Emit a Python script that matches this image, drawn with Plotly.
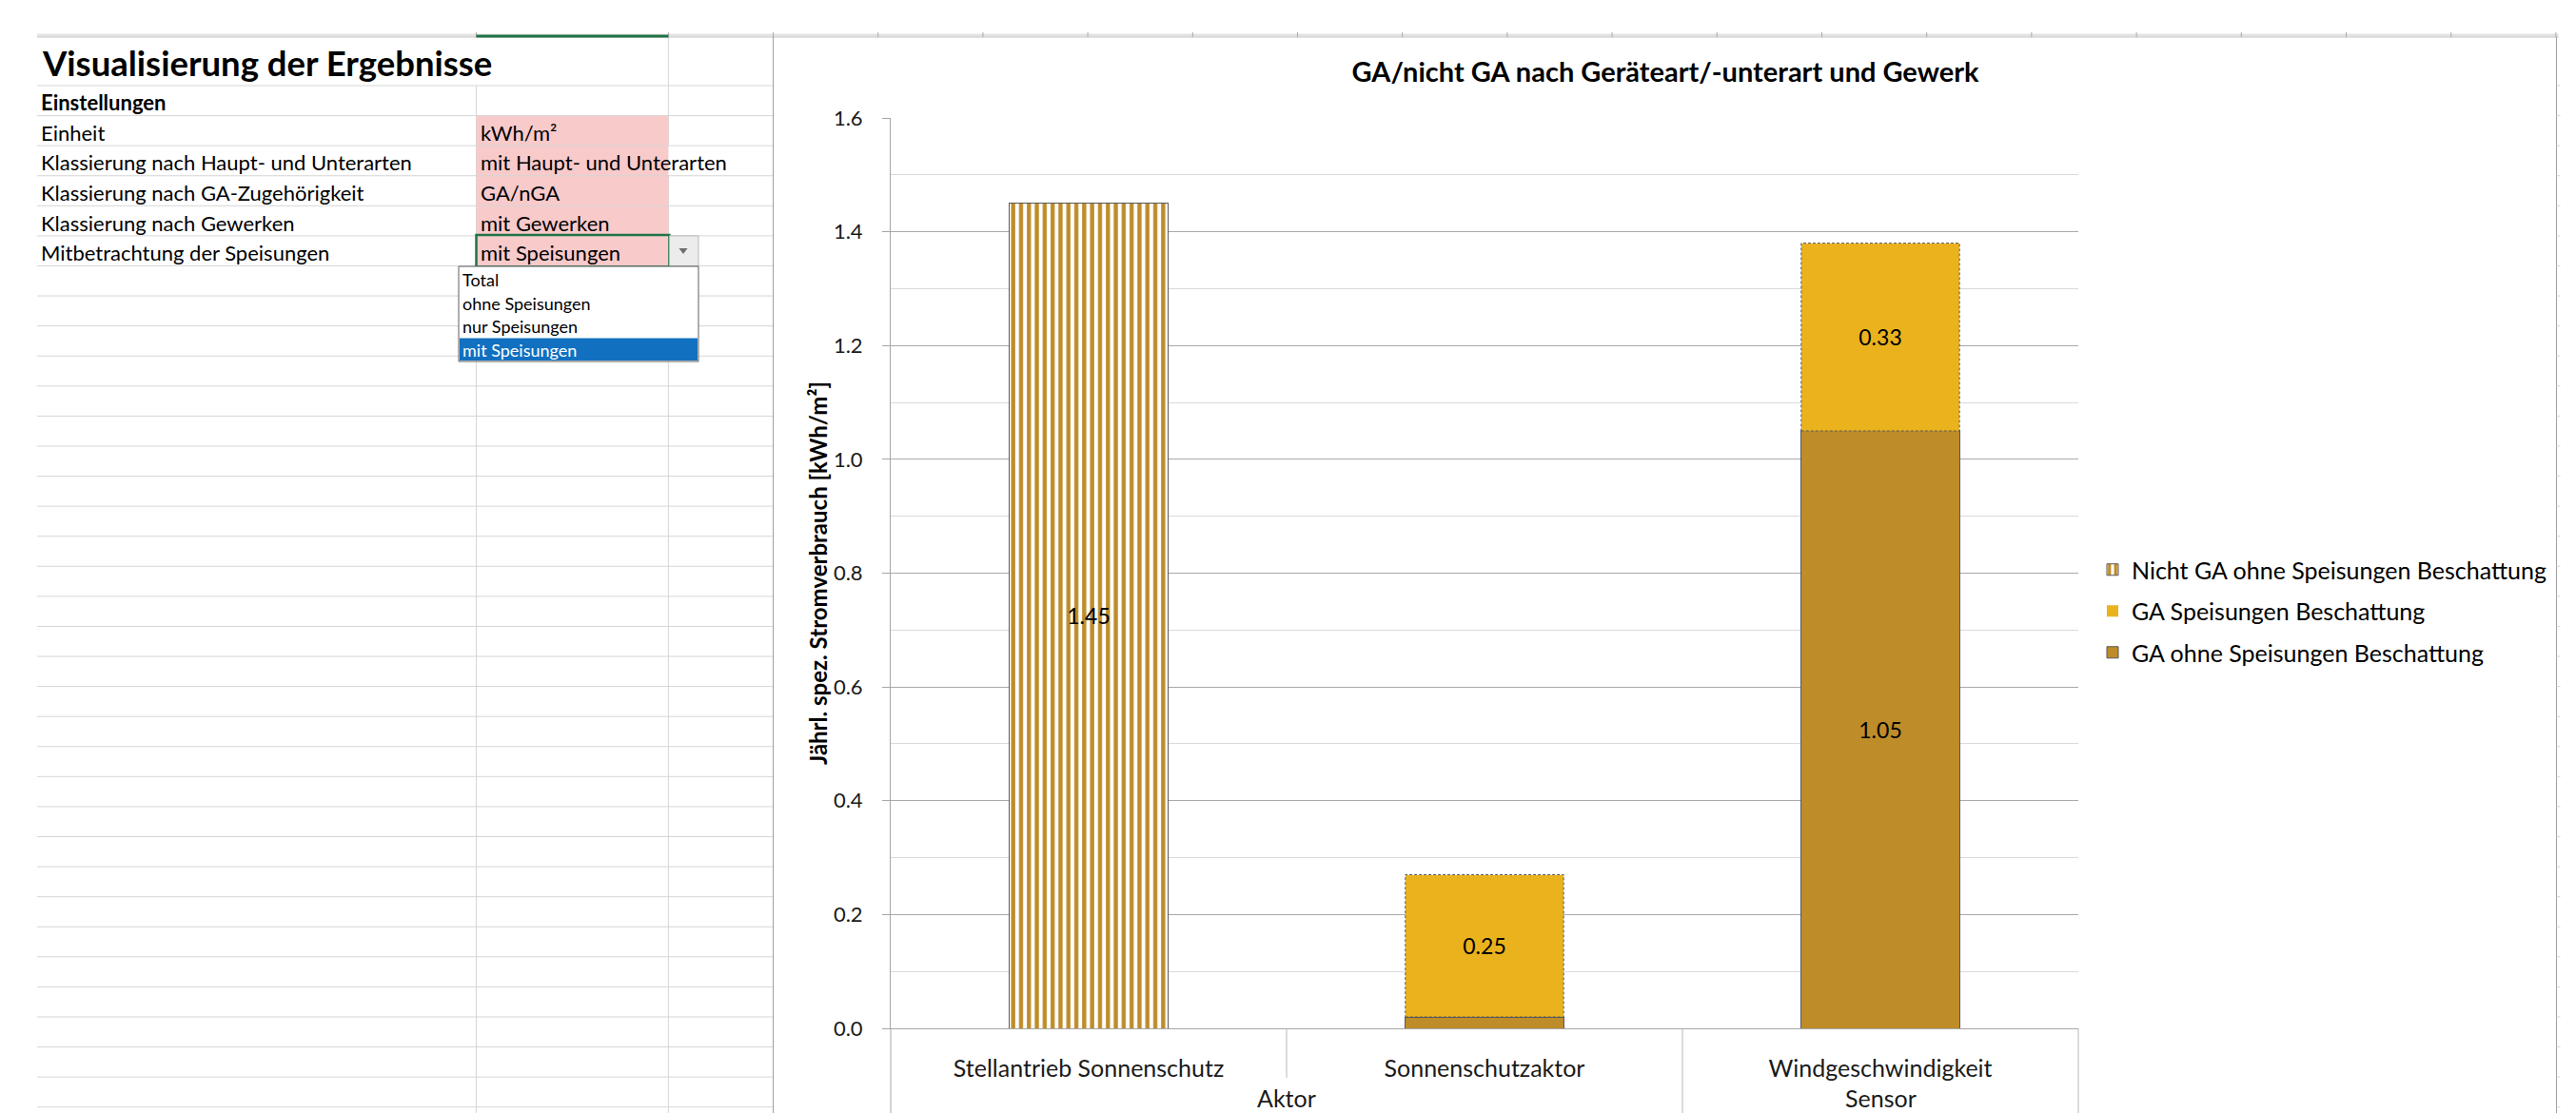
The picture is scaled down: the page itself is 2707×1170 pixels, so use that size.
import plotly.graph_objects as go

# ---------------- chart data ----------------
groups = ["Aktor", "Aktor", "Sensor"]
categories = ["Stellantrieb Sonnenschutz", "Sonnenschutzaktor", "Windgeschwindigkeit"]
ga_ohne_speisungen = [None, 0.02, 1.05]
ga_speisungen = [None, 0.25, 0.33]
nicht_ga_ohne_speisungen = [1.45, None, None]
series_names = [
    "GA ohne Speisungen Beschattung",
    "GA Speisungen Beschattung",
    "Nicht GA ohne Speisungen Beschattung",
]
y_tick_values = [0.0, 0.2, 0.4, 0.6, 0.8, 1.0, 1.2, 1.4, 1.6]

chart_title = "GA/nicht GA nach Geräteart/-unterart und Gewerk"
y_title = "Jährl. spez. Stromverbrauch [kWh/m²]"

# ---------------- worksheet content beside the chart ----------------
sheet_title = "Visualisierung der Ergebnisse"
settings_header = "Einstellungen"
setting_labels = [
    "Einheit",
    "Klassierung nach Haupt- und Unterarten",
    "Klassierung nach GA-Zugehörigkeit",
    "Klassierung nach Gewerken",
    "Mitbetrachtung der Speisungen",
]
setting_values = ["kWh/m²", "mit Haupt- und Unterarten", "GA/nGA", "mit Gewerken", "mit Speisungen"]
dropdown_options = ["Total", "ohne Speisungen", "nur Speisungen", "mit Speisungen"]
selected_option = "mit Speisungen"

# ---------------- styling ----------------
FONT = "Lato, Carlito, Calibri, sans-serif"
GOLD = "#BE8C28"
YELLOW = "#EAB31E"
EDGE = "#595959"
TEXT = "#1a1a1a"
BAR_W = 0.4

W, H = 2707, 1170
PLOT_L, PLOT_R, PLOT_T, PLOT_B = 936, 2184, 124, 1081


def fx(px):
    return (px - PLOT_L) / (PLOT_R - PLOT_L)


def fy(py):
    return (PLOT_B - py) / (PLOT_B - PLOT_T)


shapes = []
annotations = []


def hline(x0, x1, y, color, width=1):
    shapes.append(dict(type="line", xref="paper", yref="paper", x0=fx(x0), x1=fx(x1),
                       y0=fy(y), y1=fy(y), line=dict(color=color, width=width), layer="above"))


def vline(x, y0, y1, color, width=1):
    shapes.append(dict(type="line", xref="paper", yref="paper", x0=fx(x), x1=fx(x),
                       y0=fy(y0), y1=fy(y1), line=dict(color=color, width=width), layer="above"))


def box(x0, y0, x1, y1, fill, color=None, width=0):
    shapes.append(dict(type="rect", xref="paper", yref="paper", x0=fx(x0), x1=fx(x1),
                       y0=fy(y1), y1=fy(y0), fillcolor=fill,
                       line=dict(color=color or fill, width=width), layer="above"))


def label(x, y, s, size, color="#000000", bold=False, anchor="left"):
    annotations.append(dict(x=fx(x), y=fy(y), xref="paper", yref="paper", text=s,
                            showarrow=False, xanchor=anchor, yanchor="middle",
                            font=dict(family=FONT, size=size, color=color,
                                      weight=700 if bold else 400)))


def value_labels(values):
    return [f"{v:.2f}" if v is not None and v >= 0.1 else "" for v in values]


# ---------------- bars ----------------
fig = go.Figure()
text_font = dict(family=FONT, size=23, color="#000000")

fig.add_trace(go.Bar(
    name=series_names[0], x=categories, y=ga_ohne_speisungen, width=BAR_W,
    marker=dict(color=GOLD, line=dict(color=EDGE, width=1)),
    text=value_labels(ga_ohne_speisungen), textposition="inside",
    insidetextanchor="middle", textangle=0, textfont=text_font,
    legendgroup="g1", legendrank=3,
))
fig.add_trace(go.Bar(
    name=series_names[1], x=categories, y=ga_speisungen, width=BAR_W,
    marker=dict(color=YELLOW, line=dict(color=YELLOW, width=0)),
    text=value_labels(ga_speisungen), textposition="inside",
    insidetextanchor="middle", textangle=0, textfont=text_font,
    legendgroup="g2", legendrank=2,
))
fig.add_trace(go.Bar(
    name=series_names[2], x=categories, y=nicht_ga_ohne_speisungen, width=BAR_W,
    marker=dict(color="white", line=dict(color=EDGE, width=1),
                pattern=dict(shape="|", fgcolor=GOLD, bgcolor="white",
                             size=8.3, solidity=0.52)),
    text=value_labels(nicht_ga_ohne_speisungen), textposition="inside",
    insidetextanchor="middle", textangle=0, textfont=text_font,
    legendgroup="g3", legendrank=1,
))

# dashed outline of the "GA Speisungen" segments
for i, (base, val) in enumerate(zip(ga_ohne_speisungen, ga_speisungen)):
    if val:
        b = base or 0.0
        shapes.append(dict(type="rect", xref="x", yref="y",
                           x0=i - BAR_W / 2, x1=i + BAR_W / 2, y0=b, y1=b + val,
                           line=dict(color=EDGE, width=1, dash="3px,2px"),
                           fillcolor="rgba(0,0,0,0)", layer="above"))

# ---------------- category axis dividers and group labels ----------------
AXIS_GRAY = "#a6a6a6"
n = len(categories)
for k in range(n + 1):
    is_group_edge = k == 0 or k == n or groups[k - 1] != groups[k]
    shapes.append(dict(type="line", xref="paper", yref="paper", x0=k / n, x1=k / n,
                       y0=0, y1=fy(1172 if is_group_edge else 1133),
                       line=dict(color=AXIS_GRAY if k == 0 else "#b8b8b8", width=1),
                       layer="above"))

seen = []
for g in groups:
    if g not in seen:
        seen.append(g)
for g in seen:
    idx = [i for i, gg in enumerate(groups) if gg == g]
    annotations.append(dict(x=sum(idx) / len(idx), xref="x", y=fy(1170), yref="paper",
                            text=g, showarrow=False, xanchor="center", yanchor="bottom",
                            borderpad=0,
                            font=dict(family=FONT, size=25, color=TEXT)))

# y axis title
annotations.append(dict(x=fx(859), y=fy(603), xref="paper", yref="paper", text=y_title,
                        textangle=-90, showarrow=False, xanchor="center", yanchor="middle",
                        font=dict(family=FONT, size=24, color="#000000", weight=700)))

# ---------------- worksheet backdrop ----------------
GRID = "#d6d6d6"
ROW_H = 31.58
TITLE_ROW_BOTTOM = 90
row_edges = [TITLE_ROW_BOTTOM + ROW_H * k for k in range(0, 36) if TITLE_ROW_BOTTOM + ROW_H * k < H]
COL_A, COL_B, COL_C, CHART_X0, CHART_X1 = 39, 500.5, 702.4, 812.5, 2686.5

# column lines (hidden where text overflows)
vline(COL_B, TITLE_ROW_BOTTOM, H, GRID)
vline(COL_C, 39, row_edges[2], GRID)
vline(COL_C, row_edges[3], H, GRID)

# highlighted input cells
box(COL_B, row_edges[1], COL_C, row_edges[6], "#f8caca")

for y in row_edges:
    hline(COL_A, CHART_X0, y, GRID)

# column header strip
box(COL_A, 35.5, CHART_X1 + 2, 38.5, "#e3e3e3")
hline(COL_A, CHART_X1 + 2, 39, "#c4c4c4")
col_marks = [COL_B, COL_C] + [CHART_X0 + 110.2 * k for k in range(0, 18)]
for x in col_marks:
    vline(x, 34, 39, "#a8a8a8")
box(COL_B, 36.5, COL_C, 39.5, "#217346")

# chart object border
vline(CHART_X0, 39, H, "#a0a0a0")
vline(CHART_X1, 39, H, "#a0a0a0")
for y in row_edges:
    hline(CHART_X1, CHART_X1 + 4, y, GRID)

# sheet texts
label(42, 66, sheet_title, 36.5, bold=True)
label(41, row_edges[0] + ROW_H / 2 + 2, settings_header, 22, bold=True)
for k, (name, val) in enumerate(zip(setting_labels, setting_values)):
    yc = row_edges[k + 1] + ROW_H / 2 + 2
    label(41, yc, name, 22)
    label(503, yc, val, 22)

# active cell with validation drop-down
sel_top, sel_bot = row_edges[5], row_edges[6]
shapes.append(dict(type="rect", xref="paper", yref="paper", x0=fx(COL_B), x1=fx(COL_C + 1),
                   y0=fy(sel_bot + 1), y1=fy(sel_top - 1), fillcolor="rgba(0,0,0,0)",
                   line=dict(color="#217346", width=2.5), layer="above"))
box(COL_C + 1, sel_top, 734, sel_bot, "#ececec", "#b8b8b8", 1)
tri = (f"M {fx(713.5)} {fy(261)} L {fx(722.5)} {fy(261)} L {fx(718)} {fy(267)} Z")
shapes.append(dict(type="path", xref="paper", yref="paper", path=tri,
                   fillcolor="#6e6e6e", line=dict(color="#6e6e6e", width=0), layer="above"))

LIST_X0, LIST_X1, LIST_Y0, LIST_Y1 = 482, 734, 280, 380
box(LIST_X0, LIST_Y0, LIST_X1, LIST_Y1, "white", "#5f5f5f", 1)
item_h = (LIST_Y1 - LIST_Y0 - 2) / len(dropdown_options)
for k, opt in enumerate(dropdown_options):
    y0 = LIST_Y0 + 1 + item_h * k
    chosen = opt == selected_option
    if chosen:
        box(LIST_X0 + 1, y0 + 1, LIST_X1 - 1, y0 + item_h, "#1170c0")
    label(484, y0 + item_h / 2 + 1, opt, 18, color="white" if chosen else "#000000")

# ---------------- layout ----------------
fig.update_layout(
    width=W, height=H, autosize=False,
    template="none",
    paper_bgcolor="white", plot_bgcolor="white",
    margin=dict(l=PLOT_L, r=W - PLOT_R, t=PLOT_T, b=H - PLOT_B, pad=0, autoexpand=False),
    barmode="stack",
    font=dict(family=FONT, color=TEXT),
    title=dict(text=chart_title, x=1750 / W, xref="container", xanchor="center",
               y=1 - 76 / H, yref="container", yanchor="middle",
               font=dict(family=FONT, size=29, color="#000000", weight=700)),
    xaxis=dict(type="category", range=[-0.5, n - 0.5], showgrid=False, zeroline=False,
               showline=True, linecolor=AXIS_GRAY, linewidth=1, ticks="",
               tickfont=dict(family=FONT, size=25, color=TEXT), ticklabelstandoff=20,
               automargin=False, fixedrange=True),
    yaxis=dict(range=[0, 1.6], tickvals=y_tick_values, tickformat=".1f",
               showgrid=True, gridcolor="#a9a9a9", gridwidth=1, zeroline=False,
               showline=True, linecolor=AXIS_GRAY, linewidth=1,
               ticks="outside", ticklen=8, tickcolor=AXIS_GRAY,
               tickfont=dict(family=FONT, size=22, color=TEXT), ticklabelstandoff=16,
               minor=dict(dtick=0.1, showgrid=True, gridcolor="#dadada", ticks=""),
               automargin=False, fixedrange=True),
    legend=dict(x=fx(2200), y=fy(576), xref="paper", yref="paper",
                xanchor="left", yanchor="top", traceorder="grouped",
                tracegroupgap=8, bgcolor="rgba(0,0,0,0)", itemwidth=30,
                font=dict(family=FONT, size=25, color="#000000")),
    shapes=shapes,
    annotations=annotations,
    showlegend=True,
)

fig.write_html("out.html")
